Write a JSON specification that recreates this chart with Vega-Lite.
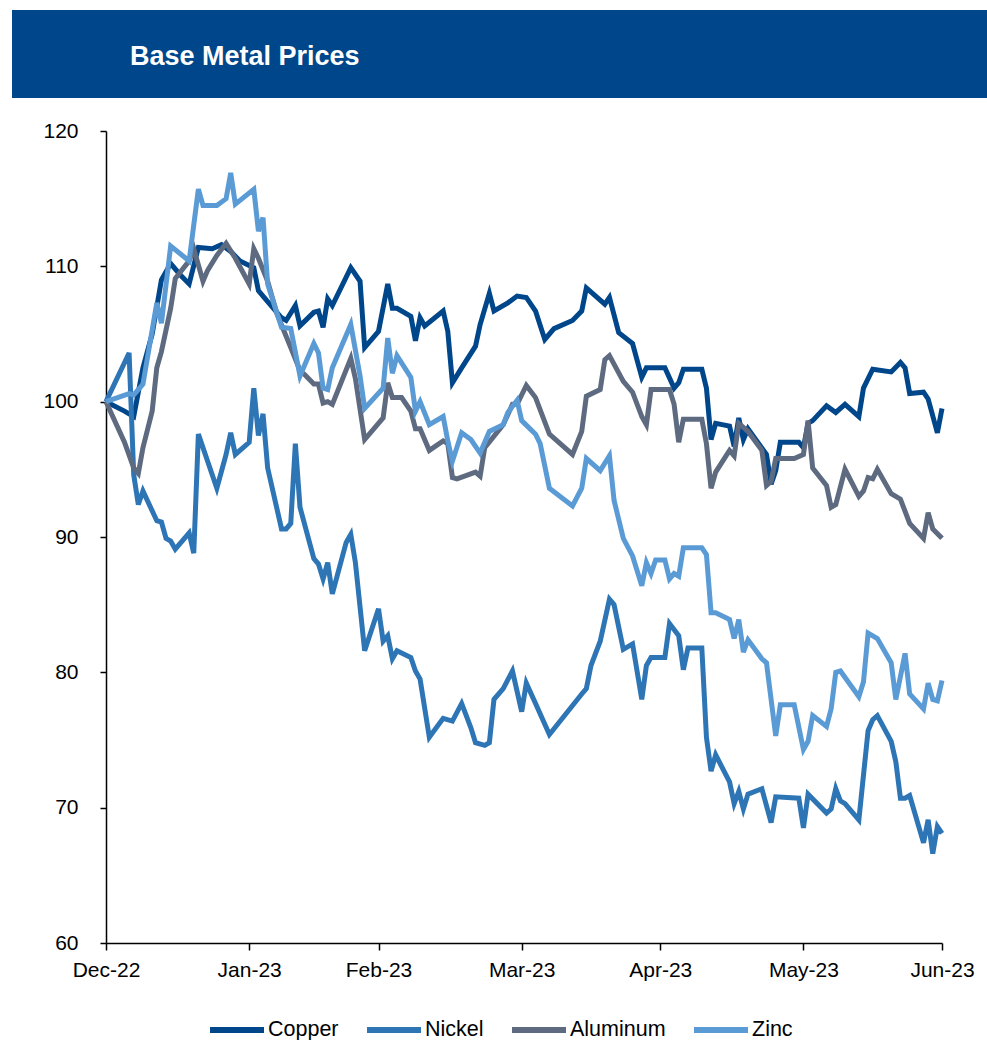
{
"$schema":"https://vega.github.io/schema/vega-lite/v6.json",
"padding":{"left":12,"top":10,"right":0,"bottom":0},
"background":"white",
"config":{"view":{"stroke":null},"font":"Liberation Sans"},
"spacing":22,
"vconcat":[
{
"width":975,"height":88,
"view":{"fill":"#00468B","stroke":null},
"title":{"text":"Base Metal Prices","anchor":"start","frame":"group","orient":"top","offset":-82,"dx":118,"baseline":"alphabetic","color":"white","font":"Liberation Sans","fontSize":27,"fontWeight":"bold"},
"data":{"values":[{"banner":"Base Metal Prices"}]},
"mark":{"type":"rect","color":"#00468B"},
"encoding":{}
},
{
"width":930,"height":812,
"data":{"values":[
{"metal":"Copper","date":"2022-12-31","value":100},
{"metal":"Copper","date":"2023-01-04","value":99.3},
{"metal":"Copper","date":"2023-01-06","value":98.9},
{"metal":"Copper","date":"2023-01-08","value":102.5},
{"metal":"Copper","date":"2023-01-10","value":105.0},
{"metal":"Copper","date":"2023-01-12","value":109.0},
{"metal":"Copper","date":"2023-01-14","value":110.2},
{"metal":"Copper","date":"2023-01-16","value":109.4},
{"metal":"Copper","date":"2023-01-18","value":108.7},
{"metal":"Copper","date":"2023-01-20","value":111.4},
{"metal":"Copper","date":"2023-01-23","value":111.3},
{"metal":"Copper","date":"2023-01-25","value":111.6},
{"metal":"Copper","date":"2023-01-27","value":111.1},
{"metal":"Copper","date":"2023-01-29","value":110.4},
{"metal":"Copper","date":"2023-02-01","value":109.9},
{"metal":"Copper","date":"2023-02-02","value":108.2},
{"metal":"Copper","date":"2023-02-04","value":107.4},
{"metal":"Copper","date":"2023-02-07","value":106.2},
{"metal":"Copper","date":"2023-02-08","value":106.0},
{"metal":"Copper","date":"2023-02-10","value":107.1},
{"metal":"Copper","date":"2023-02-11","value":105.6},
{"metal":"Copper","date":"2023-02-14","value":106.6},
{"metal":"Copper","date":"2023-02-15","value":106.7},
{"metal":"Copper","date":"2023-02-16","value":105.5},
{"metal":"Copper","date":"2023-02-17","value":107.6},
{"metal":"Copper","date":"2023-02-18","value":107.1},
{"metal":"Copper","date":"2023-02-22","value":109.9},
{"metal":"Copper","date":"2023-02-24","value":108.9},
{"metal":"Copper","date":"2023-02-25","value":104.0},
{"metal":"Copper","date":"2023-02-28","value":105.2},
{"metal":"Copper","date":"2023-03-02","value":108.7},
{"metal":"Copper","date":"2023-03-03","value":106.9},
{"metal":"Copper","date":"2023-03-04","value":106.9},
{"metal":"Copper","date":"2023-03-07","value":106.3},
{"metal":"Copper","date":"2023-03-08","value":104.5},
{"metal":"Copper","date":"2023-03-09","value":106.2},
{"metal":"Copper","date":"2023-03-10","value":105.6},
{"metal":"Copper","date":"2023-03-14","value":106.7},
{"metal":"Copper","date":"2023-03-15","value":105.2},
{"metal":"Copper","date":"2023-03-16","value":101.4},
{"metal":"Copper","date":"2023-03-18","value":102.5},
{"metal":"Copper","date":"2023-03-21","value":104.1},
{"metal":"Copper","date":"2023-03-22","value":105.7},
{"metal":"Copper","date":"2023-03-24","value":108.0},
{"metal":"Copper","date":"2023-03-25","value":106.7},
{"metal":"Copper","date":"2023-03-28","value":107.3},
{"metal":"Copper","date":"2023-03-30","value":107.8},
{"metal":"Copper","date":"2023-04-01","value":107.7},
{"metal":"Copper","date":"2023-04-03","value":106.7},
{"metal":"Copper","date":"2023-04-05","value":104.6},
{"metal":"Copper","date":"2023-04-07","value":105.4},
{"metal":"Copper","date":"2023-04-11","value":106.0},
{"metal":"Copper","date":"2023-04-13","value":106.7},
{"metal":"Copper","date":"2023-04-14","value":108.4},
{"metal":"Copper","date":"2023-04-18","value":107.2},
{"metal":"Copper","date":"2023-04-19","value":107.7},
{"metal":"Copper","date":"2023-04-21","value":105.1},
{"metal":"Copper","date":"2023-04-24","value":104.3},
{"metal":"Copper","date":"2023-04-26","value":101.8},
{"metal":"Copper","date":"2023-04-27","value":102.5},
{"metal":"Copper","date":"2023-05-01","value":102.5},
{"metal":"Copper","date":"2023-05-03","value":101.0},
{"metal":"Copper","date":"2023-05-04","value":101.4},
{"metal":"Copper","date":"2023-05-05","value":102.4},
{"metal":"Copper","date":"2023-05-09","value":102.4},
{"metal":"Copper","date":"2023-05-10","value":101.0},
{"metal":"Copper","date":"2023-05-11","value":97.2},
{"metal":"Copper","date":"2023-05-12","value":98.4},
{"metal":"Copper","date":"2023-05-15","value":98.2},
{"metal":"Copper","date":"2023-05-16","value":96.7},
{"metal":"Copper","date":"2023-05-17","value":98.8},
{"metal":"Copper","date":"2023-05-18","value":97.2},
{"metal":"Copper","date":"2023-05-19","value":98.0},
{"metal":"Copper","date":"2023-05-23","value":96.1},
{"metal":"Copper","date":"2023-05-24","value":93.9},
{"metal":"Copper","date":"2023-05-25","value":94.9},
{"metal":"Copper","date":"2023-05-26","value":97.0},
{"metal":"Copper","date":"2023-05-30","value":97.0},
{"metal":"Copper","date":"2023-05-31","value":96.6},
{"metal":"Copper","date":"2023-06-01","value":98.4},
{"metal":"Copper","date":"2023-06-02","value":98.6},
{"metal":"Copper","date":"2023-06-05","value":99.7},
{"metal":"Copper","date":"2023-06-07","value":99.2},
{"metal":"Copper","date":"2023-06-09","value":99.8},
{"metal":"Copper","date":"2023-06-12","value":98.9},
{"metal":"Copper","date":"2023-06-13","value":101.0},
{"metal":"Copper","date":"2023-06-15","value":102.4},
{"metal":"Copper","date":"2023-06-19","value":102.2},
{"metal":"Copper","date":"2023-06-21","value":102.9},
{"metal":"Copper","date":"2023-06-22","value":102.5},
{"metal":"Copper","date":"2023-06-23","value":100.6},
{"metal":"Copper","date":"2023-06-26","value":100.7},
{"metal":"Copper","date":"2023-06-27","value":100.2},
{"metal":"Copper","date":"2023-06-29","value":97.7},
{"metal":"Copper","date":"2023-06-30","value":99.5},
{"metal":"Nickel","date":"2022-12-31","value":100},
{"metal":"Nickel","date":"2023-01-05","value":103.6},
{"metal":"Nickel","date":"2023-01-06","value":94.6},
{"metal":"Nickel","date":"2023-01-07","value":92.4},
{"metal":"Nickel","date":"2023-01-08","value":93.4},
{"metal":"Nickel","date":"2023-01-11","value":91.2},
{"metal":"Nickel","date":"2023-01-12","value":91.1},
{"metal":"Nickel","date":"2023-01-13","value":89.9},
{"metal":"Nickel","date":"2023-01-14","value":89.7},
{"metal":"Nickel","date":"2023-01-15","value":89.1},
{"metal":"Nickel","date":"2023-01-18","value":90.3},
{"metal":"Nickel","date":"2023-01-19","value":88.8},
{"metal":"Nickel","date":"2023-01-20","value":97.6},
{"metal":"Nickel","date":"2023-01-22","value":95.6},
{"metal":"Nickel","date":"2023-01-24","value":93.6},
{"metal":"Nickel","date":"2023-01-26","value":96.1},
{"metal":"Nickel","date":"2023-01-27","value":97.7},
{"metal":"Nickel","date":"2023-01-28","value":96.1},
{"metal":"Nickel","date":"2023-01-31","value":97.0},
{"metal":"Nickel","date":"2023-02-01","value":101.0},
{"metal":"Nickel","date":"2023-02-02","value":97.5},
{"metal":"Nickel","date":"2023-02-03","value":99.1},
{"metal":"Nickel","date":"2023-02-04","value":95.1},
{"metal":"Nickel","date":"2023-02-07","value":90.6},
{"metal":"Nickel","date":"2023-02-08","value":90.6},
{"metal":"Nickel","date":"2023-02-09","value":91.0},
{"metal":"Nickel","date":"2023-02-10","value":96.9},
{"metal":"Nickel","date":"2023-02-11","value":92.2},
{"metal":"Nickel","date":"2023-02-14","value":88.4},
{"metal":"Nickel","date":"2023-02-15","value":88.0},
{"metal":"Nickel","date":"2023-02-16","value":86.9},
{"metal":"Nickel","date":"2023-02-17","value":88.1},
{"metal":"Nickel","date":"2023-02-18","value":85.8},
{"metal":"Nickel","date":"2023-02-21","value":89.6},
{"metal":"Nickel","date":"2023-02-22","value":90.2},
{"metal":"Nickel","date":"2023-02-23","value":88.1},
{"metal":"Nickel","date":"2023-02-25","value":81.6},
{"metal":"Nickel","date":"2023-02-28","value":84.7},
{"metal":"Nickel","date":"2023-03-01","value":82.3},
{"metal":"Nickel","date":"2023-03-02","value":82.7},
{"metal":"Nickel","date":"2023-03-03","value":81.0},
{"metal":"Nickel","date":"2023-03-04","value":81.6},
{"metal":"Nickel","date":"2023-03-07","value":81.1},
{"metal":"Nickel","date":"2023-03-08","value":80.1},
{"metal":"Nickel","date":"2023-03-09","value":79.5},
{"metal":"Nickel","date":"2023-03-11","value":75.2},
{"metal":"Nickel","date":"2023-03-14","value":76.6},
{"metal":"Nickel","date":"2023-03-16","value":76.4},
{"metal":"Nickel","date":"2023-03-18","value":77.7},
{"metal":"Nickel","date":"2023-03-20","value":75.9},
{"metal":"Nickel","date":"2023-03-21","value":74.8},
{"metal":"Nickel","date":"2023-03-23","value":74.6},
{"metal":"Nickel","date":"2023-03-24","value":74.8},
{"metal":"Nickel","date":"2023-03-25","value":78.0},
{"metal":"Nickel","date":"2023-03-27","value":78.8},
{"metal":"Nickel","date":"2023-03-29","value":80.1},
{"metal":"Nickel","date":"2023-03-31","value":77.1},
{"metal":"Nickel","date":"2023-04-01","value":79.2},
{"metal":"Nickel","date":"2023-04-03","value":77.7},
{"metal":"Nickel","date":"2023-04-06","value":75.4},
{"metal":"Nickel","date":"2023-04-13","value":78.4},
{"metal":"Nickel","date":"2023-04-14","value":78.8},
{"metal":"Nickel","date":"2023-04-15","value":80.5},
{"metal":"Nickel","date":"2023-04-17","value":82.3},
{"metal":"Nickel","date":"2023-04-19","value":85.4},
{"metal":"Nickel","date":"2023-04-20","value":85.0},
{"metal":"Nickel","date":"2023-04-22","value":81.7},
{"metal":"Nickel","date":"2023-04-24","value":82.1},
{"metal":"Nickel","date":"2023-04-26","value":78.0},
{"metal":"Nickel","date":"2023-04-27","value":80.5},
{"metal":"Nickel","date":"2023-04-28","value":81.1},
{"metal":"Nickel","date":"2023-05-01","value":81.1},
{"metal":"Nickel","date":"2023-05-02","value":83.6},
{"metal":"Nickel","date":"2023-05-04","value":82.7},
{"metal":"Nickel","date":"2023-05-05","value":80.2},
{"metal":"Nickel","date":"2023-05-06","value":81.8},
{"metal":"Nickel","date":"2023-05-09","value":81.8},
{"metal":"Nickel","date":"2023-05-10","value":75.2},
{"metal":"Nickel","date":"2023-05-11","value":72.7},
{"metal":"Nickel","date":"2023-05-12","value":73.9},
{"metal":"Nickel","date":"2023-05-15","value":71.9},
{"metal":"Nickel","date":"2023-05-16","value":70.3},
{"metal":"Nickel","date":"2023-05-17","value":71.2},
{"metal":"Nickel","date":"2023-05-18","value":69.9},
{"metal":"Nickel","date":"2023-05-19","value":71.0},
{"metal":"Nickel","date":"2023-05-22","value":71.4},
{"metal":"Nickel","date":"2023-05-24","value":68.9},
{"metal":"Nickel","date":"2023-05-25","value":70.8},
{"metal":"Nickel","date":"2023-05-30","value":70.7},
{"metal":"Nickel","date":"2023-05-31","value":68.5},
{"metal":"Nickel","date":"2023-06-01","value":71.0},
{"metal":"Nickel","date":"2023-06-05","value":69.6},
{"metal":"Nickel","date":"2023-06-06","value":69.9},
{"metal":"Nickel","date":"2023-06-07","value":71.4},
{"metal":"Nickel","date":"2023-06-08","value":70.5},
{"metal":"Nickel","date":"2023-06-09","value":70.3},
{"metal":"Nickel","date":"2023-06-12","value":69.1},
{"metal":"Nickel","date":"2023-06-14","value":75.7},
{"metal":"Nickel","date":"2023-06-15","value":76.5},
{"metal":"Nickel","date":"2023-06-16","value":76.8},
{"metal":"Nickel","date":"2023-06-19","value":74.9},
{"metal":"Nickel","date":"2023-06-20","value":73.4},
{"metal":"Nickel","date":"2023-06-21","value":70.7},
{"metal":"Nickel","date":"2023-06-22","value":70.7},
{"metal":"Nickel","date":"2023-06-23","value":70.9},
{"metal":"Nickel","date":"2023-06-26","value":67.4},
{"metal":"Nickel","date":"2023-06-27","value":69.1},
{"metal":"Nickel","date":"2023-06-28","value":66.6},
{"metal":"Nickel","date":"2023-06-29","value":68.6},
{"metal":"Nickel","date":"2023-06-30","value":68.1},
{"metal":"Aluminum","date":"2022-12-31","value":100},
{"metal":"Aluminum","date":"2023-01-04","value":97.0},
{"metal":"Aluminum","date":"2023-01-06","value":95.1},
{"metal":"Aluminum","date":"2023-01-07","value":94.7},
{"metal":"Aluminum","date":"2023-01-08","value":96.6},
{"metal":"Aluminum","date":"2023-01-10","value":99.3},
{"metal":"Aluminum","date":"2023-01-11","value":102.5},
{"metal":"Aluminum","date":"2023-01-12","value":103.7},
{"metal":"Aluminum","date":"2023-01-14","value":106.9},
{"metal":"Aluminum","date":"2023-01-15","value":109.1},
{"metal":"Aluminum","date":"2023-01-18","value":110.4},
{"metal":"Aluminum","date":"2023-01-19","value":111.3},
{"metal":"Aluminum","date":"2023-01-21","value":108.9},
{"metal":"Aluminum","date":"2023-01-22","value":109.7},
{"metal":"Aluminum","date":"2023-01-24","value":110.8},
{"metal":"Aluminum","date":"2023-01-26","value":111.7},
{"metal":"Aluminum","date":"2023-01-28","value":110.6},
{"metal":"Aluminum","date":"2023-01-31","value":108.7},
{"metal":"Aluminum","date":"2023-02-01","value":111.3},
{"metal":"Aluminum","date":"2023-02-02","value":110.6},
{"metal":"Aluminum","date":"2023-02-04","value":108.9},
{"metal":"Aluminum","date":"2023-02-06","value":106.5},
{"metal":"Aluminum","date":"2023-02-09","value":104.0},
{"metal":"Aluminum","date":"2023-02-11","value":102.3},
{"metal":"Aluminum","date":"2023-02-12","value":102.0},
{"metal":"Aluminum","date":"2023-02-14","value":101.3},
{"metal":"Aluminum","date":"2023-02-15","value":101.3},
{"metal":"Aluminum","date":"2023-02-16","value":99.9},
{"metal":"Aluminum","date":"2023-02-17","value":100.0},
{"metal":"Aluminum","date":"2023-02-18","value":99.8},
{"metal":"Aluminum","date":"2023-02-22","value":103.2},
{"metal":"Aluminum","date":"2023-02-23","value":101.7},
{"metal":"Aluminum","date":"2023-02-25","value":97.2},
{"metal":"Aluminum","date":"2023-03-01","value":98.8},
{"metal":"Aluminum","date":"2023-03-02","value":101.4},
{"metal":"Aluminum","date":"2023-03-03","value":100.3},
{"metal":"Aluminum","date":"2023-03-05","value":100.3},
{"metal":"Aluminum","date":"2023-03-07","value":99.3},
{"metal":"Aluminum","date":"2023-03-08","value":98.0},
{"metal":"Aluminum","date":"2023-03-09","value":98.0},
{"metal":"Aluminum","date":"2023-03-11","value":96.4},
{"metal":"Aluminum","date":"2023-03-14","value":97.1},
{"metal":"Aluminum","date":"2023-03-15","value":96.9},
{"metal":"Aluminum","date":"2023-03-16","value":94.4},
{"metal":"Aluminum","date":"2023-03-17","value":94.3},
{"metal":"Aluminum","date":"2023-03-21","value":94.8},
{"metal":"Aluminum","date":"2023-03-22","value":94.5},
{"metal":"Aluminum","date":"2023-03-23","value":96.6},
{"metal":"Aluminum","date":"2023-03-27","value":98.3},
{"metal":"Aluminum","date":"2023-03-29","value":99.8},
{"metal":"Aluminum","date":"2023-03-30","value":99.8},
{"metal":"Aluminum","date":"2023-04-01","value":101.2},
{"metal":"Aluminum","date":"2023-04-03","value":100.3},
{"metal":"Aluminum","date":"2023-04-06","value":97.6},
{"metal":"Aluminum","date":"2023-04-11","value":96.1},
{"metal":"Aluminum","date":"2023-04-13","value":97.8},
{"metal":"Aluminum","date":"2023-04-14","value":100.4},
{"metal":"Aluminum","date":"2023-04-17","value":100.9},
{"metal":"Aluminum","date":"2023-04-18","value":103.1},
{"metal":"Aluminum","date":"2023-04-19","value":103.4},
{"metal":"Aluminum","date":"2023-04-22","value":101.5},
{"metal":"Aluminum","date":"2023-04-24","value":100.7},
{"metal":"Aluminum","date":"2023-04-26","value":98.9},
{"metal":"Aluminum","date":"2023-04-27","value":98.3},
{"metal":"Aluminum","date":"2023-04-28","value":100.9},
{"metal":"Aluminum","date":"2023-05-02","value":100.9},
{"metal":"Aluminum","date":"2023-05-03","value":99.8},
{"metal":"Aluminum","date":"2023-05-04","value":97.0},
{"metal":"Aluminum","date":"2023-05-05","value":98.7},
{"metal":"Aluminum","date":"2023-05-09","value":98.7},
{"metal":"Aluminum","date":"2023-05-10","value":96.9},
{"metal":"Aluminum","date":"2023-05-11","value":93.6},
{"metal":"Aluminum","date":"2023-05-12","value":94.8},
{"metal":"Aluminum","date":"2023-05-15","value":96.4},
{"metal":"Aluminum","date":"2023-05-16","value":96.0},
{"metal":"Aluminum","date":"2023-05-17","value":98.4},
{"metal":"Aluminum","date":"2023-05-19","value":97.8},
{"metal":"Aluminum","date":"2023-05-22","value":96.4},
{"metal":"Aluminum","date":"2023-05-23","value":93.8},
{"metal":"Aluminum","date":"2023-05-24","value":94.1},
{"metal":"Aluminum","date":"2023-05-25","value":95.8},
{"metal":"Aluminum","date":"2023-05-29","value":95.8},
{"metal":"Aluminum","date":"2023-05-31","value":96.1},
{"metal":"Aluminum","date":"2023-06-01","value":98.6},
{"metal":"Aluminum","date":"2023-06-02","value":95.1},
{"metal":"Aluminum","date":"2023-06-05","value":93.8},
{"metal":"Aluminum","date":"2023-06-06","value":92.2},
{"metal":"Aluminum","date":"2023-06-07","value":92.4},
{"metal":"Aluminum","date":"2023-06-09","value":95.0},
{"metal":"Aluminum","date":"2023-06-12","value":93.0},
{"metal":"Aluminum","date":"2023-06-13","value":93.4},
{"metal":"Aluminum","date":"2023-06-14","value":94.4},
{"metal":"Aluminum","date":"2023-06-15","value":94.3},
{"metal":"Aluminum","date":"2023-06-16","value":95.0},
{"metal":"Aluminum","date":"2023-06-19","value":93.2},
{"metal":"Aluminum","date":"2023-06-21","value":92.8},
{"metal":"Aluminum","date":"2023-06-23","value":91.0},
{"metal":"Aluminum","date":"2023-06-26","value":89.9},
{"metal":"Aluminum","date":"2023-06-27","value":91.8},
{"metal":"Aluminum","date":"2023-06-28","value":90.6},
{"metal":"Aluminum","date":"2023-06-30","value":89.9},
{"metal":"Zinc","date":"2022-12-31","value":100},
{"metal":"Zinc","date":"2023-01-05","value":100.6},
{"metal":"Zinc","date":"2023-01-06","value":100.5},
{"metal":"Zinc","date":"2023-01-08","value":101.3},
{"metal":"Zinc","date":"2023-01-11","value":107.3},
{"metal":"Zinc","date":"2023-01-12","value":105.8},
{"metal":"Zinc","date":"2023-01-14","value":111.5},
{"metal":"Zinc","date":"2023-01-18","value":110.4},
{"metal":"Zinc","date":"2023-01-20","value":115.7},
{"metal":"Zinc","date":"2023-01-21","value":114.5},
{"metal":"Zinc","date":"2023-01-24","value":114.5},
{"metal":"Zinc","date":"2023-01-26","value":115.0},
{"metal":"Zinc","date":"2023-01-27","value":116.9},
{"metal":"Zinc","date":"2023-01-28","value":114.6},
{"metal":"Zinc","date":"2023-02-01","value":115.7},
{"metal":"Zinc","date":"2023-02-02","value":112.6},
{"metal":"Zinc","date":"2023-02-03","value":113.6},
{"metal":"Zinc","date":"2023-02-04","value":108.7},
{"metal":"Zinc","date":"2023-02-07","value":105.5},
{"metal":"Zinc","date":"2023-02-09","value":105.4},
{"metal":"Zinc","date":"2023-02-11","value":101.9},
{"metal":"Zinc","date":"2023-02-14","value":104.3},
{"metal":"Zinc","date":"2023-02-15","value":103.6},
{"metal":"Zinc","date":"2023-02-16","value":101.0},
{"metal":"Zinc","date":"2023-02-17","value":100.9},
{"metal":"Zinc","date":"2023-02-18","value":102.5},
{"metal":"Zinc","date":"2023-02-22","value":105.7},
{"metal":"Zinc","date":"2023-02-24","value":101.9},
{"metal":"Zinc","date":"2023-02-25","value":99.5},
{"metal":"Zinc","date":"2023-03-01","value":101.0},
{"metal":"Zinc","date":"2023-03-02","value":104.7},
{"metal":"Zinc","date":"2023-03-03","value":102.1},
{"metal":"Zinc","date":"2023-03-04","value":103.4},
{"metal":"Zinc","date":"2023-03-07","value":101.8},
{"metal":"Zinc","date":"2023-03-08","value":99.3},
{"metal":"Zinc","date":"2023-03-09","value":100.0},
{"metal":"Zinc","date":"2023-03-11","value":98.3},
{"metal":"Zinc","date":"2023-03-14","value":98.9},
{"metal":"Zinc","date":"2023-03-15","value":97.1},
{"metal":"Zinc","date":"2023-03-16","value":95.6},
{"metal":"Zinc","date":"2023-03-18","value":97.7},
{"metal":"Zinc","date":"2023-03-20","value":97.2},
{"metal":"Zinc","date":"2023-03-22","value":96.2},
{"metal":"Zinc","date":"2023-03-24","value":97.8},
{"metal":"Zinc","date":"2023-03-27","value":98.3},
{"metal":"Zinc","date":"2023-03-28","value":99.2},
{"metal":"Zinc","date":"2023-03-30","value":100.1},
{"metal":"Zinc","date":"2023-03-31","value":98.6},
{"metal":"Zinc","date":"2023-04-03","value":97.6},
{"metal":"Zinc","date":"2023-04-04","value":96.9},
{"metal":"Zinc","date":"2023-04-06","value":93.6},
{"metal":"Zinc","date":"2023-04-11","value":92.3},
{"metal":"Zinc","date":"2023-04-13","value":93.6},
{"metal":"Zinc","date":"2023-04-14","value":95.8},
{"metal":"Zinc","date":"2023-04-17","value":94.9},
{"metal":"Zinc","date":"2023-04-19","value":96.0},
{"metal":"Zinc","date":"2023-04-20","value":92.7},
{"metal":"Zinc","date":"2023-04-22","value":89.9},
{"metal":"Zinc","date":"2023-04-24","value":88.6},
{"metal":"Zinc","date":"2023-04-26","value":86.4},
{"metal":"Zinc","date":"2023-04-27","value":88.1},
{"metal":"Zinc","date":"2023-04-28","value":87.3},
{"metal":"Zinc","date":"2023-04-29","value":88.3},
{"metal":"Zinc","date":"2023-05-01","value":88.3},
{"metal":"Zinc","date":"2023-05-02","value":86.9},
{"metal":"Zinc","date":"2023-05-03","value":87.3},
{"metal":"Zinc","date":"2023-05-04","value":87.1},
{"metal":"Zinc","date":"2023-05-05","value":89.2},
{"metal":"Zinc","date":"2023-05-09","value":89.2},
{"metal":"Zinc","date":"2023-05-10","value":88.7},
{"metal":"Zinc","date":"2023-05-11","value":84.4},
{"metal":"Zinc","date":"2023-05-12","value":84.4},
{"metal":"Zinc","date":"2023-05-15","value":83.9},
{"metal":"Zinc","date":"2023-05-16","value":82.5},
{"metal":"Zinc","date":"2023-05-17","value":83.9},
{"metal":"Zinc","date":"2023-05-18","value":81.5},
{"metal":"Zinc","date":"2023-05-19","value":82.4},
{"metal":"Zinc","date":"2023-05-22","value":81.0},
{"metal":"Zinc","date":"2023-05-23","value":80.7},
{"metal":"Zinc","date":"2023-05-25","value":75.3},
{"metal":"Zinc","date":"2023-05-26","value":77.6},
{"metal":"Zinc","date":"2023-05-29","value":77.6},
{"metal":"Zinc","date":"2023-05-31","value":74.3},
{"metal":"Zinc","date":"2023-06-01","value":74.9},
{"metal":"Zinc","date":"2023-06-02","value":76.8},
{"metal":"Zinc","date":"2023-06-05","value":76.0},
{"metal":"Zinc","date":"2023-06-06","value":77.3},
{"metal":"Zinc","date":"2023-06-07","value":80.0},
{"metal":"Zinc","date":"2023-06-08","value":80.1},
{"metal":"Zinc","date":"2023-06-12","value":78.2},
{"metal":"Zinc","date":"2023-06-13","value":79.3},
{"metal":"Zinc","date":"2023-06-14","value":82.9},
{"metal":"Zinc","date":"2023-06-16","value":82.5},
{"metal":"Zinc","date":"2023-06-19","value":80.7},
{"metal":"Zinc","date":"2023-06-20","value":78.0},
{"metal":"Zinc","date":"2023-06-22","value":81.4},
{"metal":"Zinc","date":"2023-06-23","value":78.4},
{"metal":"Zinc","date":"2023-06-26","value":77.3},
{"metal":"Zinc","date":"2023-06-27","value":79.2},
{"metal":"Zinc","date":"2023-06-28","value":78.0},
{"metal":"Zinc","date":"2023-06-29","value":77.9},
{"metal":"Zinc","date":"2023-06-30","value":79.4}
]},
"mark":{"type":"line","strokeWidth":5,"strokeMiterLimit":4},
"encoding":{
"x":{"field":"date","type":"temporal",
"scale":{"type":"utc","range":[94,930],"domain":[{"year":2022,"month":12,"date":31,"utc":true},{"year":2023,"month":6,"date":30,"utc":true}]},
"axis":{"title":null,"grid":false,
"values":[{"year":2022,"month":12,"date":31,"utc":true},{"year":2023,"month":1,"date":31,"utc":true},{"year":2023,"month":2,"date":28,"utc":true},{"year":2023,"month":3,"date":31,"utc":true},{"year":2023,"month":4,"date":30,"utc":true},{"year":2023,"month":5,"date":31,"utc":true},{"year":2023,"month":6,"date":30,"utc":true}],
"labelExpr":"utcFormat(datum.value, '%b-%y')",
"tickSize":7,"tickColor":"#000","tickWidth":1.5,"domainColor":"#000","domainWidth":1.5,
"labelFont":"Liberation Sans","labelFontSize":21,"labelColor":"#000","labelPadding":9,"labelFlush":false,"labelOverlap":false}},
"y":{"field":"value","type":"quantitative",
"scale":{"domain":[60,120],"nice":false,"zero":false},
"axis":{"title":null,"grid":false,"values":[60,70,80,90,100,110,120],"offset":-94,
"tickSize":6,"tickColor":"#000","tickWidth":1.5,"domainColor":"#000","domainWidth":1.5,
"labelFont":"Liberation Sans","labelFontSize":21,"labelColor":"#000","labelPadding":22}},
"color":{"field":"metal","type":"nominal",
"scale":{"domain":["Copper","Nickel","Aluminum","Zinc"],"range":["#00468B","#2E75B6","#5E6A80","#5B9BD5"]},
"legend":{"title":null,"orient":"none","direction":"horizontal","legendX":195,"legendY":990,
"symbolType":"stroke","symbolSize":2916,"symbolStrokeWidth":6,
"labelFont":"Liberation Sans","labelFontSize":21.5,"labelColor":"#000","labelOffset":1,"columnPadding":16,"padding":0}}
}
}
]
}
